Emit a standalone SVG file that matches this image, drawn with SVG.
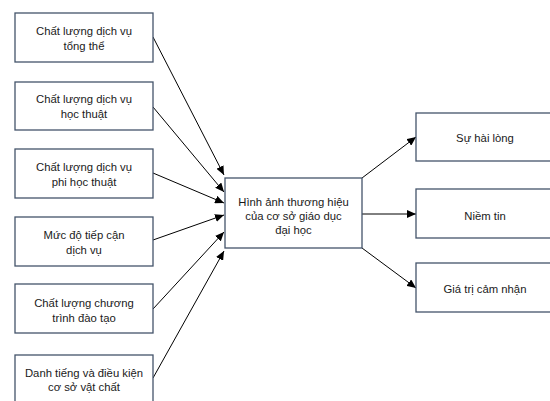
<svg xmlns="http://www.w3.org/2000/svg" width="550" height="401" viewBox="0 0 550 401">
<style>
.box{fill:#fff;stroke:#44546a;stroke-width:1.3}
text{font-family:"Liberation Sans",Arial,sans-serif;font-size:11.3px;fill:#1a1a1a;text-anchor:middle}
.con line{stroke:#000;stroke-width:1}
</style>
<defs>
<marker id="ah" markerUnits="userSpaceOnUse" markerWidth="10" markerHeight="8" refX="9" refY="4" orient="auto">
<path d="M0,0 L9,4 L0,8 Z" fill="#000"/>
</marker>
</defs>
<rect width="550" height="401" fill="#fff"/>
<g class="con">
<line x1="153" y1="37" x2="224" y2="175" marker-end="url(#ah)"/>
<line x1="153" y1="107" x2="224" y2="192" marker-end="url(#ah)"/>
<line x1="153" y1="173" x2="224" y2="203" marker-end="url(#ah)"/>
<line x1="153" y1="240" x2="224" y2="215" marker-end="url(#ah)"/>
<line x1="153" y1="309" x2="224" y2="232" marker-end="url(#ah)"/>
<line x1="153" y1="378" x2="224" y2="251" marker-end="url(#ah)"/>
<line x1="362" y1="178" x2="416" y2="137" marker-end="url(#ah)"/>
<line x1="362" y1="214" x2="416" y2="214" marker-end="url(#ah)"/>
<line x1="362" y1="248" x2="416" y2="288" marker-end="url(#ah)"/>
</g>
<g id="n1"><rect class="box" x="15" y="13" width="138" height="49"/><text x="84" y="35">Chất lượng dịch vụ</text><text x="84" y="50">tổng thể</text></g>
<g id="n2"><rect class="box" x="15" y="82" width="138" height="48"/><text x="84" y="103">Chất lượng dịch vụ</text><text x="84" y="118">học thuật</text></g>
<g id="n3"><rect class="box" x="15" y="149" width="138" height="49"/><text x="84" y="171">Chất lượng dịch vụ</text><text x="84" y="186">phi học thuật</text></g>
<g id="n4"><rect class="box" x="15" y="217" width="138" height="49"/><text x="84" y="239">Mức độ tiếp cận</text><text x="84" y="254">dịch vụ</text></g>
<g id="n5"><rect class="box" x="15" y="284" width="138" height="49"/><text x="84" y="307">Chất lượng chương</text><text x="84" y="322">trình đào tạo</text></g>
<g id="n6"><rect class="box" x="15" y="355" width="138" height="49"/><text x="84" y="377">Danh tiếng và điều kiện</text><text x="84" y="391">cơ sở vật chất</text></g>
<g id="center"><rect class="box" x="225" y="178" width="137" height="70"/><text x="293.5" y="206">Hình ảnh thương hiệu</text><text x="293.5" y="220">của cơ sở giáo dục</text><text x="293.5" y="234">đại học</text></g>
<g id="r1"><rect class="box" x="416" y="113" width="138" height="48"/><text x="485" y="142">Sự hài lòng</text></g>
<g id="r2"><rect class="box" x="416" y="189" width="138" height="49"/><text x="485" y="220">Niềm tin</text></g>
<g id="r3"><rect class="box" x="416" y="263" width="138" height="49"/><text x="485" y="293">Giá trị cảm nhận</text></g>
</svg>
